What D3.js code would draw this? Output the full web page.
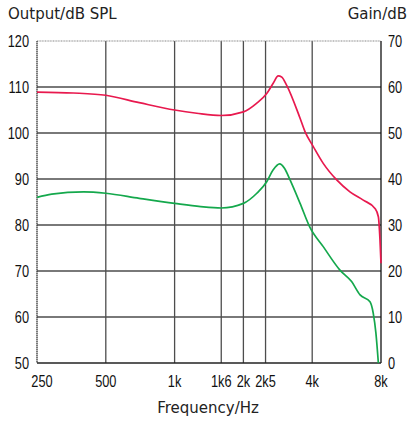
<!DOCTYPE html>
<html><head><meta charset="utf-8">
<script src="https://cdn.jsdelivr.net/npm/d3@7"></script>
<style>
html,body{margin:0;padding:0;background:#fff;}
svg{display:block;}
.title{font-family:"DejaVu Sans",sans-serif;font-size:15px;fill:#222;}
.tick{font-family:"Liberation Sans",Arial,sans-serif;font-size:16px;fill:#111;}
</style></head>
<body>
<script>
// Data
const xTicks = [250, 500, 1000, 1600, 2000, 2500, 4000, 8000];
const xTickLabels = ["250", "500", "1k", "1k6", "2k", "2k5", "4k", "8k"];
const leftTicks = [50, 60, 70, 80, 90, 100, 110, 120];
const rightTicks = [0, 10, 20, 30, 40, 50, 60, 70];

// Output (dB SPL) - red, left axis
const outFreq = [250, 360, 500, 700, 1000, 1250, 1600, 2000, 2290, 2530, 2700, 2840, 2940, 3090, 3540, 3720, 4050, 4470, 5120, 5850, 6690, 7530, 7790, 7920, 8000];
const outVal  = [108.9, 108.7, 108.2, 106.6, 105.0, 104.3, 103.8, 104.6, 106.5, 108.6, 110.8, 112.4, 112.2, 110.4, 103.2, 100.3, 97.0, 93.4, 89.8, 87.2, 85.4, 83.6, 81.8, 76.7, 71.7];

// Gain (dB) - green, right axis
const gainFreq = [250, 290, 400, 500, 700, 1000, 1300, 1600, 2000, 2290, 2530, 2700, 2880, 3030, 3200, 3540, 3900, 4470, 5290, 5950, 6480, 7160, 7400, 7600, 7790];
const gainVal  = [36.0, 36.7, 37.2, 36.9, 35.8, 34.7, 34.0, 33.7, 34.7, 36.9, 39.4, 42.0, 43.3, 42.3, 39.8, 34.7, 29.6, 25.3, 20.2, 17.7, 14.8, 13.3, 10.8, 6.5, 0];

const W = 412, H = 422;
const L = 37, R = 381, T = 41, B = 363;
const SX = 0.8;

const svg = d3.select("body").append("svg").attr("width", W).attr("height", H);

const x = d3.scaleLog().domain([250, 8000]).range([L, R]);
const yL = d3.scaleLinear().domain([50, 120]).range([B, T]);
const yR = d3.scaleLinear().domain([0, 70]).range([B, T]);

// grid
const g = svg.append("g");
g.selectAll("line.v").data(xTicks.slice(1, -1)).join("line")
  .attr("x1", d => x(d)).attr("x2", d => x(d)).attr("y1", T).attr("y2", B)
  .attr("stroke", "#4d4d4d").attr("stroke-width", 1.3);
g.selectAll("line.h").data(leftTicks.slice(1, -1)).join("line")
  .attr("x1", L).attr("x2", R).attr("y1", d => yL(d)).attr("y2", d => yL(d))
  .attr("stroke", "#4d4d4d").attr("stroke-width", 1.3);

// frame
svg.append("line").attr("x1", L).attr("x2", R).attr("y1", T).attr("y2", T).attr("stroke", "#888").attr("stroke-width", 1.2).attr("stroke-dasharray", "1,0.6");
svg.append("line").attr("x1", L).attr("x2", L).attr("y1", T).attr("y2", B).attr("stroke", "#333").attr("stroke-width", 1.3).attr("stroke-dasharray", "1.5,0.5");
svg.append("line").attr("x1", R).attr("x2", R).attr("y1", T).attr("y2", B).attr("stroke", "#111").attr("stroke-width", 1.3);
svg.append("line").attr("x1", L).attr("x2", R).attr("y1", B).attr("y2", B).attr("stroke", "#222").attr("stroke-width", 1.3);

// curves
const outLine = d3.line().x((d, i) => x(outFreq[i])).y(d => yL(d)).curve(d3.curveMonotoneX);
const gainLine = d3.line().x((d, i) => x(gainFreq[i])).y(d => yR(d)).curve(d3.curveMonotoneX);
svg.append("path").attr("d", gainLine(gainVal)).attr("fill", "none").attr("stroke", "#14a84c").attr("stroke-width", 1.7);
svg.append("path").attr("d", outLine(outVal)).attr("fill", "none").attr("stroke", "#e8194e").attr("stroke-width", 1.7);

// tick labels (condensed via horizontal scale)
svg.selectAll("text.lt").data(leftTicks).join("text").attr("class", "tick")
  .attr("transform", d => `translate(29,${yL(d) + 6}) scale(${SX},1)`).attr("text-anchor", "end").text(d => d);
svg.selectAll("text.rt").data(rightTicks).join("text").attr("class", "tick")
  .attr("transform", d => `translate(388,${yR(d) + 6}) scale(${SX},1)`).attr("text-anchor", "start").text(d => d);
svg.selectAll("text.xt").data(xTicks).join("text").attr("class", "tick")
  .attr("transform", (d, i) => `translate(${x(d) + (i === 0 ? 5 : 0)},387) scale(${SX},1)`).attr("text-anchor", "middle")
  .text((d, i) => xTickLabels[i]);

// titles
svg.append("text").attr("class", "title").attr("x", 8).attr("y", 19).text("Output/dB SPL");
svg.append("text").attr("class", "title").attr("x", 407).attr("y", 19).attr("text-anchor", "end").text("Gain/dB");
svg.append("text").attr("class", "title").attr("x", 208).attr("y", 413).attr("text-anchor", "middle").text("Frequency/Hz");
</script>
</body></html>
